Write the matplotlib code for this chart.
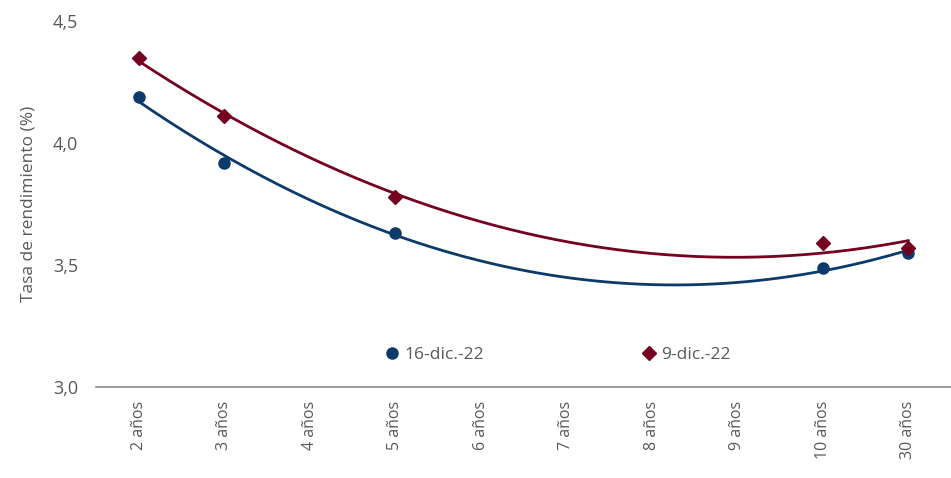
import matplotlib.pyplot as plt
import numpy as np

plt.rcParams['font.family'] = ['Open Sans', 'DejaVu Sans']

plazos = ['2 años', '3 años', '4 años', '5 años', '6 años', '7 años',
          '8 años', '9 años', '10 años', '30 años']
# posiciones (indice de categoria) donde hay dato
idx_dato = [0, 1, 3, 8, 9]
tasa_16dic = [4.19, 3.92, 3.63, 3.49, 3.55]
tasa_9dic = [4.35, 4.11, 3.78, 3.59, 3.57]

azul = '#0b3a6b'
rojo = '#75001f'
gris = '#595959'

fig = plt.figure(figsize=(9.51, 4.78), dpi=100)
ax = fig.add_axes([0.101, 0.19, 0.899, 0.766])

xs = np.linspace(0, 9, 200)
for vals, col, mk, ms, lab in [(tasa_16dic, azul, 'o', 8, '16-dic.-22'),
                               (tasa_9dic, rojo, 'D', 7, '9-dic.-22')]:
    # linea de tendencia polinomica de orden 2 (como en Excel)
    coef = np.polyfit(idx_dato, vals, 2)
    ax.plot(xs, np.polyval(coef, xs), color=col, lw=2)
    ax.plot(idx_dato, vals, ls='none', marker=mk, ms=ms, color=col, label=lab)

ax.set_xlim(-0.5, 9.5)
ax.set_ylim(3.0, 4.5)
ax.set_xticks(range(len(plazos)))
ax.set_xticklabels(plazos, rotation=90, fontsize=11.5, color=gris)
ax.set_yticks([3.0, 3.5, 4.0, 4.5])
ax.set_yticklabels(['3,0', '3,5', '4,0', '4,5'], fontsize=13, color=gris)
ax.tick_params(axis='both', length=0)
ax.tick_params(axis='y', pad=13)
ax.tick_params(axis='x', pad=10)
ax.set_ylabel('Tasa de rendimiento (%)', fontsize=12.5, color=gris, labelpad=12)

for s in ['left', 'right', 'top']:
    ax.spines[s].set_visible(False)
ax.spines['bottom'].set_color('#888888')
ax.spines['bottom'].set_linewidth(1.2)

leg = ax.legend(loc='center', bbox_to_anchor=(0.541, 0.087), ncol=2, frameon=False,
                fontsize=12.5, handlelength=0.6, handletextpad=0.4, columnspacing=9.2)
for t in leg.get_texts():
    t.set_color(gris)

fig.savefig('out.png', dpi=100)
